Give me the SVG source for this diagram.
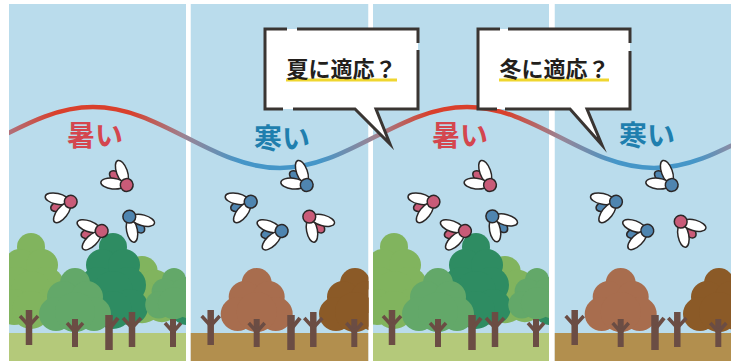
<svg xmlns="http://www.w3.org/2000/svg" xmlns:xlink="http://www.w3.org/1999/xlink" width="740" height="361" viewBox="0 0 740 361">
  <style>
    .sky { fill: #badcec; }
    .ground-summer { fill: #b4c97a; }
    .ground-winter { fill: #b28f4e; }
    .trunk { stroke: #6b4d44; fill: none; stroke-linecap: butt; }
    .bugs { stroke: #2b2727; stroke-width: 1.5; }
    .wing { fill: #ffffff; }
    .label { font-family: "Noto Sans CJK JP", "Noto Sans", sans-serif; font-weight: 700; font-size: 28px; }
    .hot { fill: #d4464e; }
    .cold { fill: #1f7fae; }
    .bubble-fill { fill: #ffffff; stroke: none; }
    .bubble-line { fill: none; stroke: #3a3532; stroke-width: 3; stroke-linejoin: miter; stroke-miterlimit: 12; stroke-linecap: butt; }
    .bubble-text { font-family: "Noto Sans CJK JP", "Noto Sans", sans-serif; font-weight: 700; font-size: 22px; fill: #231f1c; }
    .marker-line { stroke: #efd630; stroke-width: 3.2; }
  </style>
  <defs>
    <clipPath id="clipP1"><rect x="9" y="4" width="177" height="357"/></clipPath>
    <clipPath id="clipP2"><rect x="190.5" y="4" width="178" height="357"/></clipPath>
    <clipPath id="clipP3"><rect x="373" y="4" width="176" height="357"/></clipPath>
    <clipPath id="clipP4"><rect x="554.5" y="4" width="176.5" height="357"/></clipPath>
    <clipPath id="clipWave"><rect x="9" y="0" width="722" height="361"/></clipPath>

    <linearGradient id="waveGrad" gradientUnits="userSpaceOnUse" x1="9" y1="0" x2="731" y2="0">
      <stop offset="0" stop-color="#b0707a"/>
      <stop offset="0.064" stop-color="#d9402c"/>
      <stop offset="0.168" stop-color="#d9402c"/>
      <stop offset="0.244" stop-color="#9a8494"/>
      <stop offset="0.320" stop-color="#4596c8"/>
      <stop offset="0.431" stop-color="#4596c8"/>
      <stop offset="0.504" stop-color="#9a8494"/>
      <stop offset="0.583" stop-color="#d9402c"/>
      <stop offset="0.687" stop-color="#d9402c"/>
      <stop offset="0.763" stop-color="#9a8494"/>
      <stop offset="0.839" stop-color="#4596c8"/>
      <stop offset="0.950" stop-color="#4596c8"/>
      <stop offset="1" stop-color="#8a8ca4"/>
    </linearGradient>

    <!-- crown shapes, top centre at origin; fill comes from the <use> -->
    <g id="crownShort">
      <circle cx="0" cy="15" r="15"/>
      <circle cx="-12" cy="29" r="16"/>
      <circle cx="12" cy="29" r="16"/>
      <circle cx="-19" cy="46" r="17"/>
      <circle cx="19" cy="46" r="17"/>
      <circle cx="0" cy="44" r="20"/>
    </g>
    <g id="crownTall">
      <circle cx="0" cy="14" r="14"/>
      <circle cx="-11" cy="32" r="16"/>
      <circle cx="11" cy="32" r="16"/>
      <circle cx="-15" cy="52" r="18"/>
      <circle cx="15" cy="52" r="18"/>
      <circle cx="0" cy="58" r="20"/>
      <circle cx="-17" cy="74" r="18"/>
      <circle cx="17" cy="74" r="18"/>
      <circle cx="0" cy="77" r="19"/>
    </g>

    <!-- trunks, base centre at origin -->
    <g id="trunkY" class="trunk">
      <line x1="0" y1="0" x2="0" y2="-35" stroke-width="6.5"/>
      <path d="M-9,-29 L0,-19 L9,-29" stroke-width="3.5"/>
    </g>
    <g id="trunkShortY" class="trunk">
      <line x1="0" y1="0" x2="0" y2="-28" stroke-width="6"/>
      <path d="M-8,-24 L0,-15 L8,-24" stroke-width="3.5"/>
    </g>
    <g id="trunkRight" class="trunk">
      <line x1="0" y1="0" x2="0" y2="-35" stroke-width="7.5"/>
      <path d="M1,-22 L9,-32" stroke-width="4"/>
    </g>

    <!-- insect: head at origin, body and wings trailing along +x -->
    <g id="bug">
      <ellipse cx="10" cy="0" rx="11" ry="5.5"/>
      <ellipse class="wing" cx="14" cy="0" rx="12" ry="5.4" transform="rotate(32)"/>
      <ellipse class="wing" cx="14" cy="0" rx="12" ry="5.4" transform="rotate(-32)"/>
      <circle cx="0" cy="0" r="6.4"/>
    </g>

    <!-- summer forest, panel-local coordinates -->
    <g id="forestSummer">
      <use href="#crownTall" transform="translate(31,233)" fill="#81b45e"/>
      <use href="#crownShort" transform="translate(142,256) scale(1.05)" fill="#81b45e"/>
      <use href="#crownShort" transform="translate(206,262)" fill="#2e8c62"/>
      <use href="#crownTall" transform="translate(113,233)" fill="#2e8c62"/>
      <use href="#crownShort" transform="translate(75,268)" fill="#63a869"/>
      <use href="#crownShort" transform="translate(174,268) scale(0.8)" fill="#63a869"/>
      <use href="#trunkY" x="29" y="345"/>
      <use href="#trunkShortY" x="75" y="347"/>
      <use href="#trunkRight" x="109" y="350"/>
      <use href="#trunkY" x="132" y="347"/>
      <use href="#trunkShortY" x="173" y="347"/>
    </g>
    <g id="forestWinter">
      <use href="#crownShort" transform="translate(256.7,268)" fill="#a86d4e"/>
      <use href="#crownShort" transform="translate(355,268)" fill="#8b5a27"/>
      <use href="#trunkY" x="210.7" y="345"/>
      <use href="#trunkShortY" x="256.7" y="347"/>
      <use href="#trunkRight" x="291" y="350"/>
      <use href="#trunkY" x="313.3" y="347"/>
      <use href="#trunkShortY" x="354.3" y="347"/>
    </g>
  </defs>

  <rect width="740" height="361" fill="#ffffff"/>

  <!-- four panels: sky, ground, trees -->
  <g id="panel-summer-1" clip-path="url(#clipP1)">
    <rect class="sky" x="9" y="4" width="177" height="357"/>
    <rect class="ground-summer" x="9" y="333" width="177" height="28"/>
    <use href="#forestSummer"/>
  </g>
  <g id="panel-winter-1" clip-path="url(#clipP2)">
    <rect class="sky" x="190.5" y="4" width="178" height="357"/>
    <rect class="ground-winter" x="190.5" y="333" width="178" height="28"/>
    <use href="#forestWinter"/>
  </g>
  <g id="panel-summer-2" clip-path="url(#clipP3)">
    <rect class="sky" x="373" y="4" width="176" height="357"/>
    <rect class="ground-summer" x="373" y="333" width="176" height="28"/>
    <use href="#forestSummer" x="363"/>
  </g>
  <g id="panel-winter-2" clip-path="url(#clipP4)">
    <rect class="sky" x="554.5" y="4" width="176.5" height="357"/>
    <rect class="ground-winter" x="554.5" y="333" width="176.5" height="28"/>
    <use href="#forestWinter" x="364"/>
  </g>

  <!-- temperature wave -->
  <g id="connectors">
    <path id="wave" clip-path="url(#clipWave)" fill="none" stroke="url(#waveGrad)" stroke-width="4.5"
      d="M-94,168 C-25.9,168 24.9,107 93,107 C161.1,107 211.9,168 280,168 C348.1,168 398.9,107 467,107 C535.1,107 585.9,168 654,168 C722.1,168 772.9,107 841,107"/>
  </g>

  <!-- season labels -->
  <g id="labels">
    <text class="label hot" x="67" y="146">暑い</text>
    <text class="label cold" x="254" y="149">寒い</text>
    <text class="label hot" x="432" y="146">暑い</text>
    <text class="label cold" x="619" y="146">寒い</text>
  </g>

  <!-- insects -->
  <g id="insects" class="bugs">
    <use href="#bug" transform="translate(126.7,185) rotate(218)" fill="#c95b78"/>
    <use href="#bug" transform="translate(70.7,201.7) rotate(160)" fill="#c95b78"/>
    <use href="#bug" transform="translate(101.7,231) rotate(168)" fill="#c95b78"/>
    <use href="#bug" transform="translate(129.3,216.7) rotate(47)" fill="#4f85b0"/>

    <use href="#bug" transform="translate(306.7,185) rotate(218)" fill="#4f85b0"/>
    <use href="#bug" transform="translate(250.7,201.7) rotate(160)" fill="#4f85b0"/>
    <use href="#bug" transform="translate(281.7,231) rotate(168)" fill="#4f85b0"/>
    <use href="#bug" transform="translate(309.3,216.7) rotate(47)" fill="#c95b78"/>

    <use href="#bug" transform="translate(490,185) rotate(218)" fill="#c95b78"/>
    <use href="#bug" transform="translate(433.5,201.7) rotate(160)" fill="#c95b78"/>
    <use href="#bug" transform="translate(465,231) rotate(168)" fill="#c95b78"/>
    <use href="#bug" transform="translate(492.3,216.3) rotate(47)" fill="#4f85b0"/>

    <use href="#bug" transform="translate(671.7,185) rotate(218)" fill="#4f85b0"/>
    <use href="#bug" transform="translate(616,201.7) rotate(160)" fill="#4f85b0"/>
    <use href="#bug" transform="translate(647.3,230.7) rotate(168)" fill="#4f85b0"/>
    <use href="#bug" transform="translate(680.7,221.7) rotate(47)" fill="#c95b78"/>
  </g>

  <!-- speech bubbles -->
  <g id="bubble-summer">
    <path class="bubble-fill" d="M265,29 H418 V109 H376 L390,144 L355,109 H265 Z"/>
    <path class="bubble-line" d="M297,29 H418 V43 M418,50 V109 H376 L390,144 L355,109 H293 M283,109 H265 V29 H287"/>
    <line class="marker-line" x1="286" y1="80" x2="397" y2="80"/>
    <text class="bubble-text" x="341.5" y="76.5" text-anchor="middle">夏に適応？</text>
  </g>
  <g id="bubble-winter">
    <path class="bubble-fill" d="M478,29 H630 V109 H587 L602,145 L570,109 H478 Z"/>
    <path class="bubble-line" d="M508,29 H630 V43 M630,51 V109 H587 L602,145 L570,109 H505 M497,109 H478 V29 H500"/>
    <line class="marker-line" x1="499" y1="80" x2="609" y2="80"/>
    <text class="bubble-text" x="554.5" y="76.5" text-anchor="middle">冬に適応？</text>
  </g>
</svg>
